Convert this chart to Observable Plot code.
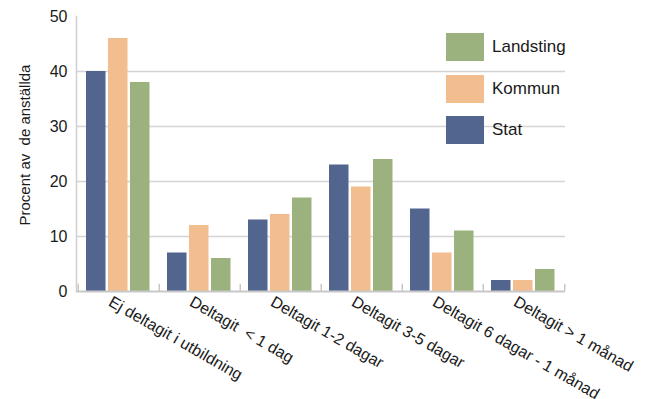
<!DOCTYPE html>
<html><head><meta charset="utf-8">
<script src="https://cdn.jsdelivr.net/npm/d3@7"></script>
<script src="https://cdn.jsdelivr.net/npm/@observablehq/plot@0.6"></script>
<style>
body{margin:0;background:#fff}
#wrap{position:relative;width:645px;height:399px}
.legend{position:absolute;left:446px;top:33px;font-family:"Liberation Sans Narrow","Arial Narrow",sans-serif;font-size:17px;color:#1a1a1a}
.legend .item{display:flex;align-items:center;height:28px;margin-bottom:13.5px}
.legend .sw{width:38px;height:28px;margin-right:8px}
</style></head>
<body><div id="wrap"></div>
<script>
const categories = ["Ej deltagit i utbildning", "Deltagit  < 1 dag", "Deltagit 1-2 dagar", "Deltagit 3-5 dagar", "Deltagit 6 dagar - 1 månad", "Deltagit > 1 månad"];
const series = ["Stat", "Kommun", "Landsting"];
const stat = [40, 7, 13, 23, 15, 2];
const kommun = [46, 12, 14, 19, 7, 2];
const landsting = [38, 6, 17, 24, 11, 4];
const yTicks = [0, 10, 20, 30, 40, 50];
const gridTicks = [10, 20, 30, 40];
const colors = ["#52658f", "#f3be8f", "#9cb27e"];
const legendOrder = ["Landsting", "Kommun", "Stat"];
const yLabel = "Procent av  de anställda";

const values = {Stat: stat, Kommun: kommun, Landsting: landsting};
const rows = series.map(s => categories.map((c, i) => ({cat: c, series: s, value: values[s][i]})));

const W = 645, H = 399, mL = 76, mR = 80, mT = 16, mB = 108;
const band = (W - mL - mR) / categories.length;
const barW = 20, gap = 2, padL = 8;
const barMark = (k) => Plot.barY(rows[k], {
  x: "cat", y: "value", fill: colors[k],
  insetLeft: padL + k * (barW + gap),
  insetRight: band - (padL + k * (barW + gap) + barW)
});

const chart = Plot.plot({
  width: W, height: H,
  marginLeft: mL, marginRight: mR, marginTop: mT, marginBottom: mB,
  style: {fontFamily: "'Liberation Sans', Arial, sans-serif", color: "#1a1a1a", background: "#fff"},
  x: {domain: categories, padding: 0},
  y: {domain: [0, 50]},
  marks: [
    Plot.ruleY(gridTicks, {stroke: "#d4d4d4", strokeWidth: 1.5}),
    barMark(0), barMark(1), barMark(2),
    Plot.ruleY([0], {stroke: "#c8c8c8", strokeWidth: 2}),
    Plot.frame({anchor: "left", stroke: "#d0d0d0", strokeWidth: 1.5}),
    Plot.ruleX(categories, {x: d => d, dx: -band / 2, y1: 0, y2: 1.3, stroke: "#c8c8c8", strokeWidth: 1.5}),
    Plot.ruleX(categories.slice(-1), {x: d => d, dx: band / 2, y1: 0, y2: 1.3, stroke: "#c8c8c8", strokeWidth: 1.5}),
    Plot.axisY({ticks: yTicks, tickSize: 0, tickPadding: 9, fontSize: 16, label: null}),
    Plot.text([yLabel], {frameAnchor: "left", textAnchor: "middle", rotate: -90, dx: -51, dy: -9, fontSize: 15, fill: "#1a1a1a"}),
    Plot.axisX({tickSize: 0, tickRotate: 30, tickPadding: 6, fontSize: 16, dx: -9, dy: 3,
      fontFamily: "'Liberation Sans Narrow', 'Arial Narrow', sans-serif", label: null})
  ]
});
const wrap = document.getElementById("wrap");
wrap.appendChild(chart);

const leg = document.createElement("div");
leg.className = "legend";
legendOrder.forEach(s => {
  const it = document.createElement("div"); it.className = "item";
  const sw = document.createElement("div"); sw.className = "sw"; sw.style.background = colors[series.indexOf(s)];
  const tx = document.createElement("span"); tx.textContent = s;
  it.appendChild(sw); it.appendChild(tx); leg.appendChild(it);
});
wrap.appendChild(leg);
</script>
</body></html>
